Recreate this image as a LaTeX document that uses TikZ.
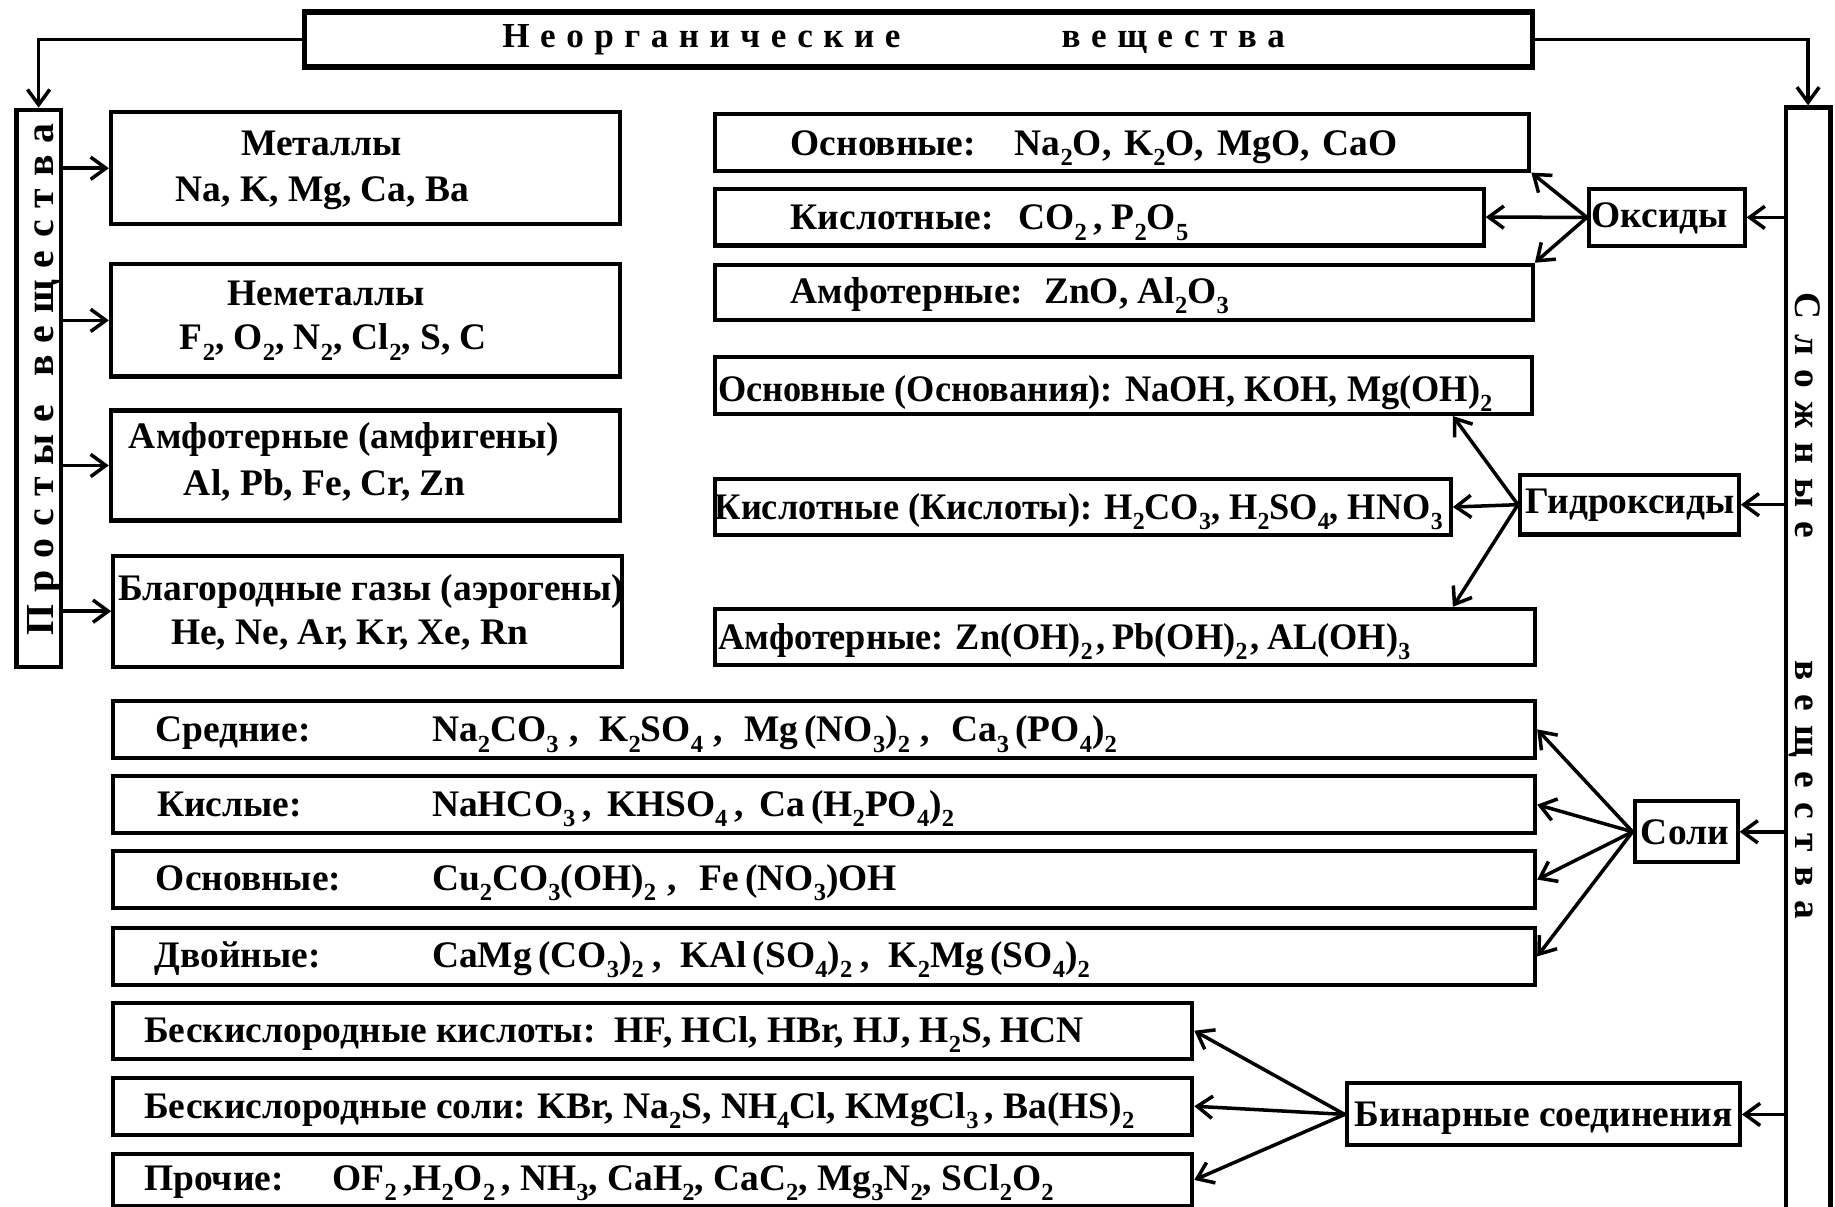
\documentclass[tikz,border=0pt]{standalone}
\usepackage{fontspec}
\setmainfont{Liberation Serif}
\newfontfamily\spacedA{Liberation Serif}[LetterSpace=30]
\newfontfamily\spacedB{Liberation Serif}[LetterSpace=38]
\newfontfamily\narrowf{Liberation Serif}[FakeStretch=0.97]
\usetikzlibrary{arrows.meta}
\newcommand\subx[1]{\raisebox{-0.27em}{\fontsize{21}{21}\selectfont #1}}
\newcommand\sepA{\hspace{9pt},\hspace{18pt}}
\newcommand\sepB{\hspace{6pt},\hspace{13pt}}
\newcommand\sepC{\hspace{10pt},\hspace{19pt}}
\newcommand\sepD{\hspace{7pt},\hspace{16pt}}
\newcommand\sepE{\hspace{3pt},\hspace{6pt}}
\tikzset{
  bxs/.style={draw, line width=3.5pt, inner sep=0pt, anchor=north west},
  txt/.style={inner sep=0pt, anchor=base west, font=\fontsize{32}{36}\selectfont\bfseries},
  txn/.style={inner sep=0pt, anchor=base west, font=\narrowf\fontsize{32}{36}\selectfont\bfseries},
  ttl/.style={inner sep=0pt, anchor=base west, font=\spacedA\fontsize{30}{34}\selectfont\bfseries},
  vtl/.style={inner sep=0pt, anchor=base west, font=\spacedA\fontsize{34}{36}\selectfont\bfseries},
  vtr/.style={inner sep=0pt, anchor=base west, font=\spacedB\fontsize{32}{36}\selectfont\bfseries},
  arr/.style={line width=3pt, -{Straight Barb[length=13pt,width=19pt]}},
}
\newcommand\bx[6][]{\node[bxs,#1,minimum width={#5pt-#3pt},minimum height={#6pt-#4pt}] (#2) at (#3,#4) {};}
\begin{document}
\begin{tikzpicture}[x=1pt,y=-1pt]
\useasboundingbox (0,0) rectangle (1568,1031);
% boxes
\bx[line width=4.5pt]{top}{258}{8}{1307}{55}
\bx[line width=4pt]{simp}{12}{92}{50}{568}
\bx[line width=4pt]{comp}{1524}{90}{1562}{1060}
\bx{met}{93}{94}{528}{190}
\bx{nmet}{93}{224}{528}{320}
\bx{amph}{93}{349}{528}{443}
\bx{nobl}{95}{473}{530}{568}
\bx{oxb}{609}{96}{1305}{144}
\bx{oxa}{609}{159.5}{1266}{208}
\bx{oxm}{609}{224.5}{1308}{272}
\bx{oxd}{1356}{159.5}{1489}{208.5}
\bx{hyb}{609}{303}{1307}{352}
\bx{hya}{609}{407.5}{1238}{455.5}
\bx{hym}{609}{518.5}{1310}{566.5}
\bx{hyd}{1297}{404}{1484}{455}
\bx{sm}{95}{597}{1310}{646}
\bx{sa}{95}{661.6}{1310}{710}
\bx{sb}{95}{725.7}{1310}{774}
\bx{sd}{95}{791}{1310}{840}
\bx{sol}{1395}{683}{1483}{735}
\bx{ba}{95}{855}{1017}{903}
\bx{bs}{95}{919}{1017}{968}
\bx{bo}{95}{984}{1017}{1029}
\bx{bin}{1149}{924}{1485}{977}
% titles
\node[ttl] (t-top1) at (429,41) {Неорганические};
\node[ttl] (t-top2) at (907,41) {вещества};
\node[vtl, rotate=90] (t-simp1) at (46,543) {Простые};
\node[vtl, rotate=90] (t-simp2) at (46,322) {вещества};
\node[vtr, rotate=-90] (t-comp1) at (1534,250) {Сложные};
\node[vtr, rotate=-90] (t-comp2) at (1534,564) {вещества};
% simple substances
\node[txt] (t-met1) at (206,133) {Металлы};
\node[txt] (t-met2) at (150,172.5) {Na, K, Mg, Ca, Ba};
\node[txt] (t-nm1) at (194,261) {Неметаллы};
\node[txt] (t-nm2) at (153.5,299) {F\subx{2}, O\subx{2}, N\subx{2}, Cl\subx{2}, S, C};
\node[txt] (t-am1) at (110,383) {Амфотерные (амфигены)};
\node[txt] (t-am2) at (157,423) {Al, Pb, Fe, Cr, Zn};
\node[txt] (t-nb1) at (101,513) {Благородные газы (аэрогены)};
\node[txt] (t-nb2) at (146,551) {He, Ne, Ar, Kr, Xe, Rn};
% oxides
\node[txt] (t-oxb) at (675.5,132.5) {\makebox[191.5pt][l]{Основные:}Na\subx{2}O,\hspace{11pt}K\subx{2}O,\hspace{11pt}MgO,\hspace{11pt}CaO};
\node[txt] (t-oxa) at (675.5,196.5) {\makebox[194.5pt][l]{Кислотные:}CO\subx{2}\,,\hspace{8pt}P\subx{2}O\subx{5}};
\node[txt] (t-oxm) at (675.5,259) {\makebox[216.5pt][l]{Амфотерные:}ZnO,\hspace{8pt}Al\subx{2}O\subx{3}};
\node[txt] (t-oxd) at (1360,194) {Оксиды};
% hydroxides
\node[txn] (t-hyb) at (613.5,343) {Основные (Основания): NaOH, KOH, Mg(OH)\subx{2}};
\node[txn] (t-hya) at (610.5,444) {Кислотные (Кислоты): H\subx{2}CO\subx{3}, H\subx{2}SO\subx{4}, HNO\subx{3}};
\node[txn] (t-hym) at (613.5,555) {Амфотерные: Zn(OH)\subx{2}\sepE Pb(OH)\subx{2}\sepE AL(OH)\subx{3}};
\node[txt] (t-hyd) at (1303,439) {Гидроксиды};
% salts
\node[txt] (t-sm) at (132.6,634) {\makebox[236.4pt][l]{Средние:}Na\subx{2}CO\subx{3}\sepA K\subx{2}SO\subx{4}\sepA Mg\,(NO\subx{3})\subx{2}\sepA Ca\subx{3}\,(PO\subx{4})\subx{2}};
\node[txt] (t-sa) at (134,698) {\makebox[235pt][l]{Кислые:}NaHCO\subx{3}\sepB KHSO\subx{4}\sepB Ca\,(H\subx{2}PO\subx{4})\subx{2}};
\node[txt] (t-sb) at (133,761) {\makebox[236pt][l]{Основные:}Cu\subx{2}CO\subx{3}(OH)\subx{2}\sepC Fe\,(NO\subx{3})OH};
\node[txt] (t-sd) at (132,827) {\makebox[237pt][l]{Двойные:}CaMg\,(CO\subx{3})\subx{2}\sepD KAl\,(SO\subx{4})\subx{2}\sepD K\subx{2}Mg\,(SO\subx{4})\subx{2}};
\node[txt] (t-sol) at (1402,722) {Соли};
% binary
\node[txt] (t-ba) at (123,891) {\makebox[402pt][l]{Бескислородные кислоты:}HF, HCl, HBr, HJ, H\subx{2}S, HCN};
\node[txt] (t-bs) at (123,956) {\makebox[336pt][l]{Бескислородные соли:}KBr, Na\subx{2}S, NH\subx{4}Cl, KMgCl\subx{3}\,, Ba(HS)\subx{2}};
\node[txt] (t-bo) at (123,1017) {\makebox[161pt][l]{Прочие:}OF\subx{2}\,,H\subx{2}O\subx{2}\,, NH\subx{3}, CaH\subx{2}, CaC\subx{2}, Mg\subx{3}N\subx{2}, SCl\subx{2}O\subx{2}};
\node[txt] (t-bin) at (1157.5,963) {Бинарные соединения};
% connectors
\draw[arr] (top.west) -| (simp.north);
\draw[arr] (top.east) -| (comp.north);
\foreach \n in {met,nmet,amph,nobl} \draw[arr] (simp.east |- \n.west) -- (\n.west);
\foreach \n in {oxd,hyd,sol,bin} \draw[arr] (comp.west |- \n.east) -- (\n.east);
\draw[arr] (oxd.west) -- (oxb.south east);
\draw[arr] (oxd.west) -- (oxa.east);
\draw[arr] (oxd.west) -- (oxm.north east);
\draw[arr] (hyd.west) -- (hyb.south -| hya.east);
\draw[arr] (hyd.west) -- (hya.east);
\draw[arr] (hyd.west) -- (hym.north -| hya.east);
\foreach \n in {sm,sa,sb,sd} \draw[arr] (sol.west) -- (\n.east);
\foreach \n in {ba,bs,bo} \draw[arr] (bin.west) -- (\n.east);
\end{tikzpicture}
\end{document}
